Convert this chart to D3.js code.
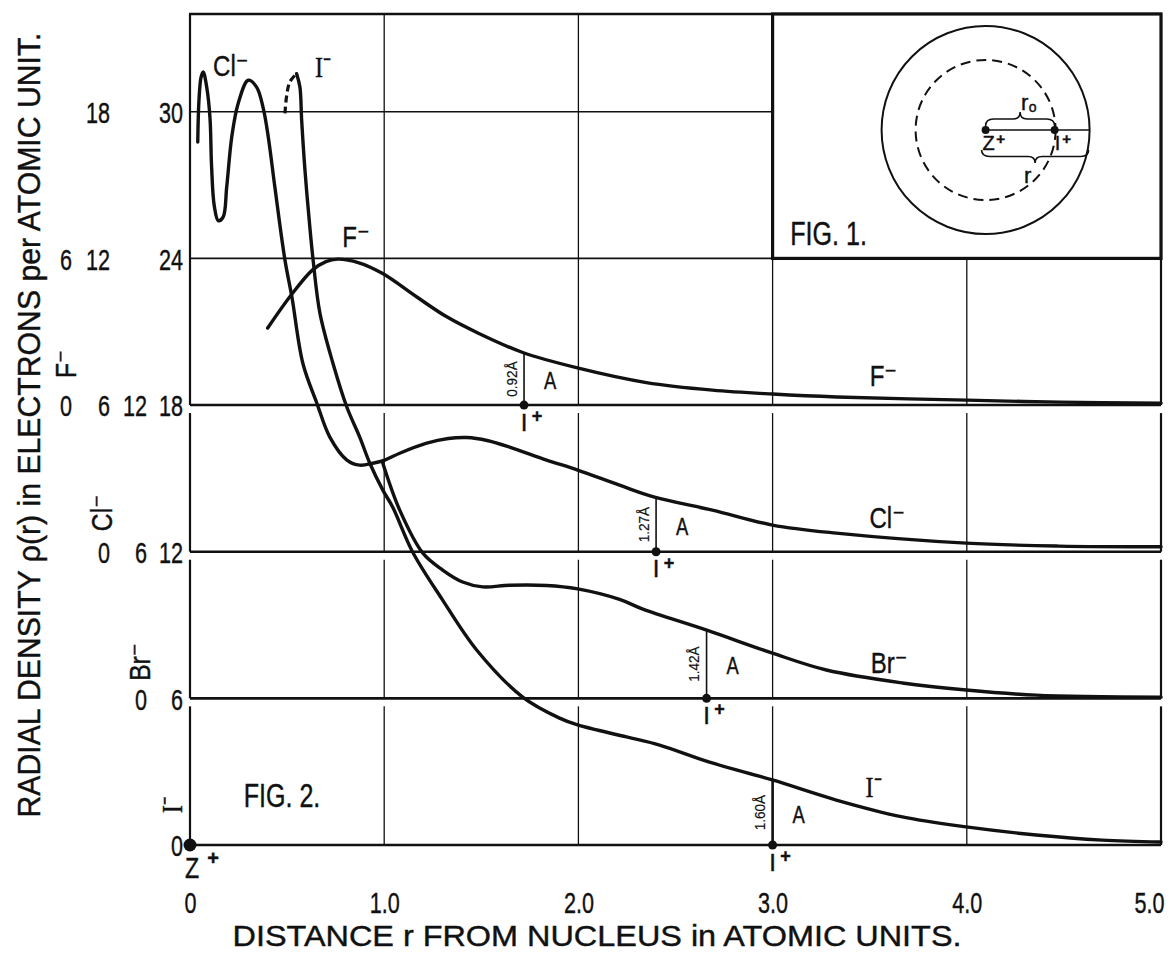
<!DOCTYPE html>
<html><head><meta charset="utf-8">
<script src="https://cdn.jsdelivr.net/npm/d3@7"></script>
<style>
body{margin:0;background:#fff;}
svg text{font-family:"Liberation Sans","DejaVu Sans",sans-serif;fill:#111;stroke:#111;stroke-width:0.4px;}
</style></head><body>
<svg id="chart" width="1170" height="955"></svg>
<script>
// ---------------- data ----------------
const xTickValues = [0, 1, 2, 3, 4, 5];
const xTickLabels = ["0", "1.0", "2.0", "3.0", "4.0", "5.0"];
const ions = ["F⁻", "Cl⁻", "Br⁻", "I⁻"];
const ionBaselines = [18, 12, 6, 0];
const ionTicks = [[0, 6], [0, 6, 12, 18], [0, 6, 12], [0, 6, 12, 18, 24, 30]];
const ionicRadiiLabels = ["0.92Å", "1.27Å", "1.42Å", "1.60Å"];
const ionicPositions = [1.72, 2.40, 2.66, 3.00];

const fR   = [0.40, 0.52, 0.63, 0.70, 0.76, 0.87, 0.99, 1.17, 1.32, 1.49, 1.71, 2.00, 2.35, 2.69, 3.00, 3.33, 4.00, 4.48, 5.00];
const fRho = [3.15, 4.49, 5.52, 5.87, 5.97, 5.82, 5.39, 4.41, 3.62, 2.92, 2.16, 1.51, 0.92, 0.61, 0.45, 0.33, 0.20, 0.12, 0.08];

const clR   = [0.040, 0.046, 0.057, 0.068, 0.086, 0.103, 0.111, 0.125, 0.146, 0.171, 0.189, 0.215, 0.248, 0.300, 0.343, 0.377, 0.403, 0.437, 0.489, 0.525, 0.581, 0.653, 0.720, 0.808, 0.874, 0.941, 1.003, 1.080, 1.219, 1.330, 1.425, 1.530, 1.646, 1.836, 1.996, 2.212, 2.392, 2.690, 2.999, 3.328, 3.997, 4.475, 5.000];
const clRho = [16.76, 18.44, 19.42, 19.63, 19.01, 17.74, 15.79, 14.15, 13.54, 13.70, 14.92, 16.97, 18.34, 19.29, 19.01, 18.15, 16.97, 14.92, 11.93, 10.41, 7.71, 6.08, 4.69, 3.75, 3.54, 3.62, 3.75, 4.03, 4.44, 4.63, 4.67, 4.55, 4.28, 3.75, 3.34, 2.72, 2.23, 1.70, 1.09, 0.76, 0.35, 0.23, 0.20];

const brR   = [0.993, 1.080, 1.199, 1.301, 1.404, 1.507, 1.646, 1.836, 1.996, 2.212, 2.332, 2.661, 2.999, 3.277, 3.668, 3.997, 4.357, 5.000];
const brRho = [9.62, 7.70, 5.94, 5.25, 4.76, 4.56, 4.63, 4.62, 4.48, 4.05, 3.65, 2.79, 1.85, 1.16, 0.63, 0.34, 0.13, 0.05];

const iDashR   = [0.489, 0.497, 0.514, 0.549];
const iDashRho = [29.93, 30.61, 31.22, 31.56];
const iR   = [0.549, 0.566, 0.575, 0.592, 0.617, 0.634, 0.669, 0.736, 0.808, 0.874, 0.926, 0.993, 1.044, 1.147, 1.301, 1.476, 1.713, 1.903, 1.996, 2.248, 2.418, 2.675, 2.999, 3.328, 3.668, 3.997, 4.357, 4.697, 5.000];
const iRho = [31.56, 31.01, 29.65, 27.61, 25.29, 23.93, 21.76, 19.71, 17.91, 16.69, 15.62, 14.52, 13.82, 11.98, 10.02, 7.98, 6.05, 5.19, 4.91, 4.42, 4.09, 3.39, 2.66, 1.84, 1.15, 0.74, 0.41, 0.20, 0.12];

const seriesR = [fR, clR, brR, iR];
const seriesRho = [fRho, clRho, brRho, iRho];

// ---------------- layout ----------------
const svg = d3.select("#chart");
const x = d3.scaleLinear().domain([0, 5]).range([190, 1161]);
const y = d3.scaleLinear().domain([0, 34]).range([845, 14]);
const ink = "#111";
const FONT = '"Liberation Sans","DejaVu Sans",sans-serif';
const condense = (sel, k) => sel.each(function () {
  const L = this.getComputedTextLength();
  d3.select(this).attr("textLength", L * k).attr("lengthAdjust", "spacingAndGlyphs");
});

// grid: vertical segments per band, with small gap below each separator
const bandEdges = [0, 6, 12, 18, 34];
const gap = 8;
const grid = svg.append("g");
xTickValues.forEach(v => {
  for (let i = 0; i < bandEdges.length - 1; i++) {
    const lo = bandEdges[i], hi = bandEdges[i + 1];
    grid.append("line")
      .attr("x1", x(v)).attr("x2", x(v))
      .attr("y1", y(lo)).attr("y2", hi < 34 ? y(hi) + gap : y(hi))
      .attr("stroke", ink).attr("stroke-width", (v === 0 || v === 5) ? 2.2 : 1.3);
  }
});
[0, 6, 12, 18].forEach(v => grid.append("line")
  .attr("x1", x(0)).attr("x2", x(5)).attr("y1", y(v)).attr("y2", y(v))
  .attr("stroke", ink).attr("stroke-width", 2.6));
[24, 30].forEach(v => grid.append("line")
  .attr("x1", x(0)).attr("x2", x(5)).attr("y1", y(v)).attr("y2", y(v))
  .attr("stroke", ink).attr("stroke-width", 1.6));
grid.append("line").attr("x1", x(0) - 1).attr("x2", x(5) + 1).attr("y1", y(34)).attr("y2", y(34))
  .attr("stroke", ink).attr("stroke-width", 2.4);

// curves
const paths = [];
seriesR.forEach((rs, k) => {
  const base = ionBaselines[k];
  const line = d3.line().x(d => x(d[0])).y(d => y(d[1] + base)).curve(d3.curveCatmullRom.alpha(0.5));
  const p = svg.append("path").datum(rs.map((r, j) => [r, seriesRho[k][j]]))
    .attr("d", line).attr("fill", "none").attr("stroke", ink)
    .attr("stroke-width", 3.4).attr("stroke-linecap", "round").attr("stroke-linejoin", "round");
  paths.push(p.node());
});
svg.append("path").datum(iDashR.map((r, j) => [r, iDashRho[j]]))
  .attr("d", d3.line().x(d => x(d[0])).y(d => y(d[1])).curve(d3.curveCatmullRom.alpha(0.5)))
  .attr("fill", "none").attr("stroke", ink).attr("stroke-width", 3.2).attr("stroke-dasharray", "7,4");

function yOnPath(node, px) {
  let lo = 0, hi = node.getTotalLength();
  for (let i = 0; i < 40; i++) {
    const mid = (lo + hi) / 2;
    if (node.getPointAtLength(mid).x < px) lo = mid; else hi = mid;
  }
  return node.getPointAtLength((lo + hi) / 2).y;
}

// ionic radius markers
ionicPositions.forEach((r, k) => {
  const px = x(r), py0 = y(ionBaselines[k]);
  const py1 = yOnPath(paths[k], px);
  svg.append("line").attr("x1", px).attr("x2", px).attr("y1", py0).attr("y2", py1)
    .attr("stroke", ink).attr("stroke-width", k === 3 ? 2.6 : 1.6);
  svg.append("circle").attr("cx", px).attr("cy", py0).attr("r", 4.5).attr("fill", ink);
  const mid = (py0 + py1) / 2;
  const t = svg.append("text").text(ionicRadiiLabels[k])
    .attr("transform", `translate(${px - 13},${mid}) rotate(-90)`)
    .attr("text-anchor", "middle").attr("dominant-baseline", "central")
    .attr("font-size", 15).style("stroke-width", "0.2px");
  condense(t, 0.9);
  const a = svg.append("text").text("A").attr("x", px + 26).attr("y", mid + 2)
    .attr("text-anchor", "middle").attr("dominant-baseline", "central").attr("font-size", 23);
  condense(a, 0.8);
  svg.append("text").text("I").attr("x", px).attr("y", py0 + 17)
    .attr("text-anchor", "middle").attr("dominant-baseline", "central").attr("font-size", 24);
  svg.append("text").text("+").attr("x", px + 13).attr("y", py0 + 11)
    .attr("text-anchor", "middle").attr("dominant-baseline", "central").attr("font-size", 18).attr("font-weight", "bold");
});

// origin nucleus
svg.append("circle").attr("cx", x(0)).attr("cy", y(0)).attr("r", 6.5).attr("fill", ink);
condense(svg.append("text").text("Z").attr("x", x(0) + 2).attr("y", 868)
  .attr("text-anchor", "middle").attr("dominant-baseline", "central").attr("font-size", 29), 0.8);
svg.append("text").text("+").attr("x", x(0) + 23).attr("y", 858)
  .attr("text-anchor", "middle").attr("dominant-baseline", "central").attr("font-size", 20).attr("font-weight", "bold");

// x axis labels
const xAxis = svg.append("g").attr("transform", `translate(0,${y(0)})`)
  .call(d3.axisBottom(x).tickValues(xTickValues).tickFormat((d, i) => xTickLabels[i]).tickSize(0).tickPadding(47));
xAxis.select(".domain").remove();
xAxis.selectAll("text").attr("font-size", 30).attr("fill", ink).style("font-family", FONT);
condense(xAxis.selectAll("text").filter(d => d !== 5), 0.72);
xAxis.selectAll("text").filter(d => d === 5)
  .attr("text-anchor", "end").attr("x", 0).attr("transform", "translate(3,0) scale(0.72,1)");

// left stacked axes
const colX = [72, 110, 147, 183];
ions.forEach((name, k) => {
  const base = ionBaselines[k];
  const sc = d3.scaleLinear().domain([-base, 34 - base]).range([845, 14]);
  const g = svg.append("g").attr("transform", `translate(${colX[k]},0)`)
    .call(d3.axisLeft(sc).tickValues(ionTicks[k]).tickSize(0).tickPadding(0));
  g.select(".domain").remove();
  g.selectAll("text").attr("font-size", 30).attr("fill", ink).attr("dy", "0.36em").style("font-family", FONT);
  condense(g.selectAll("text"), 0.72);
});
const sideLabelPos = [[66, 364], [102, 513], [140, 662], [172, 805]];
ions.forEach((name, k) => {
  const t = svg.append("text").text(name)
    .attr("transform", `translate(${sideLabelPos[k][0]},${sideLabelPos[k][1]}) rotate(-90)`)
    .attr("text-anchor", "middle").attr("dominant-baseline", "central").attr("font-size", 29);
  if (k === 3) t.style("font-family", '"Liberation Serif",serif');
  condense(t, 0.85);
});

// curve labels (data coords: r, absolute stacked value)
const curveLabels = [
  ["F⁻", 3.57, 19.2], ["Cl⁻", 3.59, 13.4], ["Br⁻", 3.60, 7.45], ["I⁻", 3.52, 2.4],
  ["Cl⁻", 0.21, 31.9], ["I⁻", 0.685, 31.85], ["F⁻", 0.855, 24.9]
];
curveLabels.forEach(([t, r, v]) => {
  const el = svg.append("text").text(t).attr("x", x(r)).attr("y", y(v))
    .attr("text-anchor", "middle").attr("dominant-baseline", "central").attr("font-size", 30);
  if (t === "I⁻") el.style("font-family", '"Liberation Serif",serif');
  condense(el, 0.8);
});

// FIG. 2
condense(svg.append("text").text("FIG. 2.").attr("x", 282).attr("y", 795)
  .attr("text-anchor", "middle").attr("dominant-baseline", "central").attr("font-size", 33), 0.76);

// axis titles
svg.append("text").text("DISTANCE  r  FROM  NUCLEUS in  ATOMIC  UNITS.")
  .attr("x", 597).attr("y", 946).attr("text-anchor", "middle").attr("font-size", 29)
  .attr("textLength", 729).attr("lengthAdjust", "spacingAndGlyphs");
svg.append("text").text("RADIAL  DENSITY  ρ(r)  in  ELECTRONS per  ATOMIC  UNIT.")
  .attr("transform", "translate(29,425) rotate(-90)")
  .attr("text-anchor", "middle").attr("dominant-baseline", "central").attr("font-size", 31)
  .attr("textLength", 785).attr("lengthAdjust", "spacingAndGlyphs");

// ---------------- inset FIG. 1 ----------------
const ix0 = x(3), ix1 = x(5), iy0 = y(34), iy1 = y(24);
const inset = svg.append("g");
inset.append("rect").attr("x", ix0).attr("y", iy0).attr("width", ix1 - ix0).attr("height", iy1 - iy0)
  .attr("fill", "#fff").attr("stroke", ink).attr("stroke-width", 3.2);
const cx = ix0 + 213, cy = iy0 + 116;
inset.append("circle").attr("cx", cx).attr("cy", cy).attr("r", 104).attr("fill", "none").attr("stroke", ink).attr("stroke-width", 2);
inset.append("circle").attr("cx", cx).attr("cy", cy).attr("r", 70).attr("fill", "none").attr("stroke", ink)
  .attr("stroke-width", 2).attr("stroke-dasharray", "10,6");
inset.append("line").attr("x1", cx).attr("x2", cx + 104).attr("y1", cy).attr("y2", cy).attr("stroke", ink).attr("stroke-width", 1.5);
inset.append("circle").attr("cx", cx).attr("cy", cy).attr("r", 4).attr("fill", ink);
inset.append("circle").attr("cx", cx + 69).attr("cy", cy).attr("r", 4).attr("fill", ink);
function bracePath(x1, x2, yb, h) {
  const xm = (x1 + x2) / 2, hh = h / 2;
  return `M${x1},${yb} Q${x1},${yb + hh} ${x1 + 8},${yb + hh} L${xm - 7},${yb + hh} Q${xm},${yb + hh} ${xm},${yb + h} Q${xm},${yb + hh} ${xm + 7},${yb + hh} L${x2 - 8},${yb + hh} Q${x2},${yb + hh} ${x2},${yb}`;
}
inset.append("path").attr("d", bracePath(cx, cx + 69, cy - 4, -14)).attr("fill", "none").attr("stroke", ink).attr("stroke-width", 1.6);
inset.append("path").attr("d", bracePath(cx - 4, cx + 103, cy + 20, 13)).attr("fill", "none").attr("stroke", ink).attr("stroke-width", 1.6);
const smallLbl = (t, px, py, fs) => inset.append("text").text(t).attr("x", px).attr("y", py)
  .attr("text-anchor", "middle").attr("dominant-baseline", "central").attr("font-size", fs);
smallLbl("Z", cx + 3, cy + 13, 20);
smallLbl("+", cx + 15, cy + 8, 15).attr("font-weight", "bold");
smallLbl("I", cx + 72, cy + 13, 20);
smallLbl("+", cx + 81, cy + 8, 15).attr("font-weight", "bold");
smallLbl("r", cx + 39, cy - 28, 22);
smallLbl("o", cx + 47, cy - 23, 14);
smallLbl("r", cx + 42, cy + 45, 22);
condense(smallLbl("FIG. 1.", ix0 + 56, iy1 - 25, 33), 0.76);
</script>
</body></html>
